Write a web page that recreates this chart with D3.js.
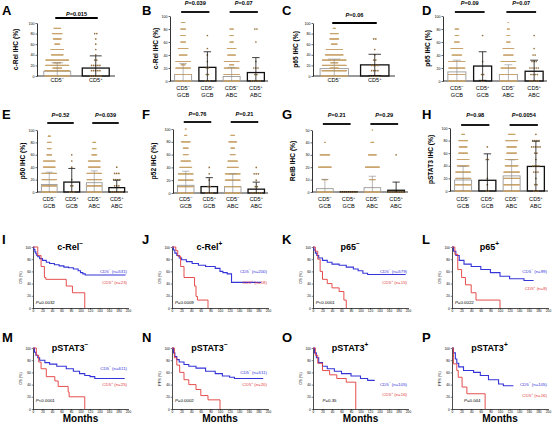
<!DOCTYPE html>
<html><head><meta charset="utf-8">
<script src="https://cdn.jsdelivr.net/npm/d3@7"></script>
<style>body{margin:0;background:#fff}svg{display:block;font-family:Arial,"Liberation Sans",sans-serif}</style>
</head><body><script>
// ---------- DATA ----------
const pctTicks = [0,20,40,60,80,100];
const relbTicks = [0,10,20,30,40,50];
const kmXTicks = [0,20,40,60,80,100,120,140,160,180,200];
const kmYTicks = [0,20,40,60,80,100];

const signsTwo = ["-","+"];
const signsFour = ["-","+","-","+"];
const groupsFour = ["GCB","GCB","ABC","ABC"];

// A: c-Rel, CD5- vs CD5+
const meanA = [9,15], sdA = [16,23], pA = ["P=0.015"];
const dotsA = [
  [[0,90],[10,83],[15,30],[20,77],[25,25],[30,77],[40,40],[50,43],[60,17],[70,27],[80,33],[90,23]],
  [[0,6],[10,5],[20,5],[30,2],[40,1],[50,1],[60,1],[70,1],[80,2]]
];
// B: c-Rel by subtype
const meanB = [10,21,7,13], sdB = [17,24,14,23], pB = ["P=0.039","P=0.07"];
const dotsB = [
  [[0,60],[10,57],[20,50],[25,15],[30,50],[40,27],[50,33],[60,17],[70,17],[80,17],[90,13]],
  [[0,3],[10,2],[20,2],[30,1],[40,1],[50,1],[70,1]],
  [[0,60],[10,57],[20,50],[25,15],[30,50],[40,27],[50,30],[60,13],[70,13],[80,13]],
  [[0,5],[10,2],[20,3],[30,1],[60,1],[80,2]]
];
// C: p65
const meanC = [14,21], sdC = [18,20], pC = ["P=0.06"];
const dotsC = [
  [[0,90],[10,83],[15,30],[20,80],[25,25],[30,80],[40,60],[50,55],[60,20],[70,30],[80,27],[90,8]],
  [[0,5],[10,4],[20,4],[30,2],[40,1],[50,1],[70,2]]
];
// D: p65 by subtype
const meanD = [14,23,10,15], sdD = [18,22,15,17], pD = ["P=0.09","P=0.07"];
const dotsD = [
  [[0,60],[10,57],[20,55],[30,55],[40,33],[50,40],[60,17],[70,13],[80,13]],
  [[0,2],[10,2],[30,1],[70,1]],
  [[0,60],[10,57],[20,50],[30,50],[40,33],[50,37],[60,13],[70,10],[80,8],[90,3]],
  [[0,5],[10,4],[20,5],[30,3],[40,2],[50,1],[70,1]]
];
// E: p50
const meanE = [12,16,15,7], sdE = [20,22,19,12], pE = ["P=0.52","P=0.039"];
const dotsE = [
  [[0,60],[10,57],[20,50],[30,50],[40,40],[50,40],[60,17],[70,13],[80,13],[90,8]],
  [[0,3],[10,2],[20,1],[40,1],[50,1],[60,1]],
  [[0,60],[10,57],[20,50],[30,50],[40,40],[50,40],[60,17],[70,13],[80,10]],
  [[0,6],[10,3],[20,4],[30,3],[40,1]]
];
// F: p52
const meanF = [12,10,10,6], sdF = [22,14,20,11], pF = ["P=0.76","P=0.21"];
const dotsF = [
  [[0,60],[10,57],[20,50],[30,50],[40,40],[50,33],[60,17],[70,17],[80,30],[90,8],[100,4]],
  [[0,4],[10,2],[20,1],[30,1],[40,1]],
  [[0,60],[10,57],[20,50],[30,50],[40,37],[50,33],[60,17],[70,13],[80,27],[90,13]],
  [[0,6],[10,2],[20,1],[30,3],[40,1]]
];
// G: RelB
const meanG = [2.7,0.2,3.5,1.4], sdG = [7.5,0,9.2,6.6], pG = ["P=0.21","P=0.29"];
const dotsG = [
  [[0,70],[10,17],[20,43],[30,33],[40,4]],
  [[0,8]],
  [[0,70],[10,20],[20,47],[30,27],[40,10],[50,3]],
  [[0,10],[30,1]]
];
// H: pSTAT3
const meanH = [17.5,17,24,39], sdH = [21.5,42,25.5,40], pH = ["P=0.98","P=0.0054"];
const dotsH = [
  [[0,60],[10,57],[20,50],[30,50],[40,40],[50,40],[60,30],[70,27],[80,30],[90,10]],
  [[0,2],[10,1],[20,1],[50,2],[70,1]],
  [[0,60],[10,57],[20,55],[30,55],[40,43],[50,43],[60,33],[70,33],[80,40],[90,23]],
  [[0,3],[10,2],[20,1],[30,3],[40,4],[50,1],[60,2],[70,5],[80,4],[90,1]]
];

// Kaplan-Meier: [months, percent surviving]
const kmI_neg = [[0,100],[2,96],[4,92],[6,89],[8,86],[10,84],[14,81],[20,78],[28,75],[35,73],[45,71],[55,69],[65,67],[75,66],[85,64],[95,61],[100,58],[105,56],[110,54],[195,54]];
const kmI_pos = [[0,100],[10,86],[17,68],[24,50],[27,47],[70,36],[83,25],[109,0]];
const kmJ_neg = [[0,100],[3,95],[6,90],[10,86],[15,82],[20,79],[30,76],[42,73],[55,70],[70,68],[90,65],[100,60],[106,58],[115,56],[124,42],[186,42]];
const kmJ_pos = [[0,100],[8,94],[12,85],[18,68],[25,50],[47,36],[50,19],[53,13],[75,0]];
const kmK_neg = [[0,100],[2,95],[5,90],[8,86],[12,82],[20,78],[30,75],[40,72],[55,70],[70,67],[85,64],[95,61],[105,57],[115,55],[195,55]];
const kmK_pos = [[0,100],[5,93],[10,80],[15,60],[20,47],[30,40],[40,33],[55,27],[65,13],[70,0]];
const kmL_neg = [[0,100],[3,93],[8,86],[15,78],[25,72],[40,68],[60,63],[80,58],[100,52],[120,48],[150,45],[170,45]];
const kmL_pos = [[0,100],[6,88],[12,63],[20,50],[28,38],[40,25],[50,13],[100,13],[100,0]];
const kmM_neg = [[0,100],[3,93],[6,88],[10,84],[14,80],[25,76],[35,73.5],[50,70],[70,66],[85,62],[98,58],[109,55],[120,53],[130,50],[193,50]];
const kmM_pos = [[0,100],[7,88],[12,77],[17,66],[28,53],[46,46],[53,37],[74,28],[76,20],[109,0]];
const kmN_neg = [[0,100],[3,92],[6,86],[10,81],[15,77],[25,73],[35,70],[50,67],[70,62],[90,58],[105,54],[120,52],[130,50],[190,50]];
const kmN_pos = [[0,100],[5,84],[10,72],[16,60],[25,48],[35,40],[50,32],[60,22],[75,15],[100,15],[100,0]];
const kmO_neg = [[0,100],[3,92],[7,84],[12,76],[20,70],[30,66],[45,62],[60,58],[80,54],[100,50],[115,47],[130,47]];
const kmO_pos = [[0,100],[5,88],[10,75],[20,63],[35,56],[50,50],[70,44],[90,44],[90,0]];
const kmP_neg = [[0,100],[3,92],[7,82],[10,75],[14,69],[24,63],[45,60],[59,55],[76,48],[97,41],[107,38],[128,38]];
const kmP_pos = [[0,100],[3,74],[10,63],[13,52],[21,36],[31,25],[69,0]];

const nI = ["531","23"], nJ = ["200","18"], nK = ["579","15"], nL = ["99","8"];
const nM = ["611","25"], nN = ["511","20"], nO = ["105","16"], nP = ["105","16"];

// ---------- DRAWING ----------
const W = 557, H = 428;
const svg = d3.select("body").append("svg").attr("width", W).attr("height", H);
const NEG_DOT = "#c9a46c", POS_DOT = "#96703c";
const BLUE = "#3434d8", RED = "#e23a3a";

function rich(g, x, y, parts, size, opt) {
  opt = opt || {};
  const t = g.append("text").attr("x", x).attr("y", y).attr("font-size", size)
    .attr("text-anchor", opt.anchor || "middle").attr("fill", opt.fill || "#000")
    .attr("font-weight", opt.weight || "normal");
  let raised = false;
  parts.forEach(p => {
    const sup = p.startsWith("^");
    const s = t.append("tspan").text(sup ? p.slice(1) : p);
    if (sup && !raised) { s.attr("dy", -size*0.4).attr("font-size", size*0.72); raised = true; }
    else if (sup) { s.attr("font-size", size*0.72); }
    else if (raised) { s.attr("dy", size*0.4); raised = false; }
  });
  return t;
}
function pText(g, x, y, str, size, anchor) {
  const t = g.append("text").attr("x", x).attr("y", y).attr("font-size", size)
    .attr("text-anchor", anchor || "middle").attr("font-weight","bold");
  t.append("tspan").attr("font-style","italic").text(str[0]);
  t.append("tspan").text(str.slice(1));
}
function letter(x, y, L, size) {
  svg.append("text").attr("x", x).attr("y", y).attr("font-size", size || 13)
    .attr("font-weight", "bold").text(L);
}

function barPanel(o) {
  const g = svg.append("g");
  const n = o.means.length;
  const y = d3.scaleLinear().domain([0, o.ymax]).range([o.yB, o.yT]);
  const x = d3.scaleBand().domain(d3.range(n)).range([o.x0 + 1, o.x1]).paddingInner(0.3).paddingOuter(0.15);
  const bw = x.bandwidth();
  const ax = g.append("g").attr("transform", `translate(${o.x0},0)`)
    .call(d3.axisLeft(y).tickValues(o.ticks).tickSize(1.5).tickSizeOuter(0).tickPadding(1));
  ax.select(".domain").attr("stroke-width", 0.8);
  ax.selectAll(".tick line").attr("stroke-width", 0.6);
  ax.selectAll(".tick text").attr("font-size", 3.6).attr("font-family", "Arial");
  g.append("line").attr("x1", o.x0).attr("x2", o.x1).attr("y1", o.yB).attr("y2", o.yB)
    .attr("stroke", "#000").attr("stroke-width", 0.8);
  o.means.forEach((m, i) => {
    const pos = o.signs[i] === "+";
    g.append("rect").attr("x", x(i)).attr("y", y(m)).attr("width", bw).attr("height", o.yB - y(m))
      .attr("fill", "none").attr("stroke", pos ? "#111" : "#9a9a9a").attr("stroke-width", pos ? 1.3 : 0.9);
  });
  o.dots.forEach((rows, i) => {
    const pos = o.signs[i] === "+";
    const cx = x(i) + bw / 2;
    rows.forEach(([v, c]) => {
      let sp = pos ? 2.1 : 0.3;
      const maxW = bw * 0.92;
      if ((c - 1) * sp > maxW) sp = maxW / (c - 1);
      for (let k = 0; k < c; k++) {
        g.append("circle").attr("cx", cx + (k - (c - 1) / 2) * sp).attr("cy", y(v))
          .attr("r", pos ? 0.85 : 0.6).attr("fill", pos ? POS_DOT : NEG_DOT);
      }
    });
  });
  o.means.forEach((m, i) => {
    const pos = o.signs[i] === "+";
    const cx = x(i) + bw / 2, sd = o.sds[i];
    if (sd <= 0) return;
    const hi = m + sd, lo = Math.max(0, m - sd);
    const col = pos ? "#111" : "#8a8a8a", sw = pos ? 0.8 : 0.6;
    g.append("line").attr("x1", cx).attr("x2", cx).attr("y1", y(lo)).attr("y2", y(hi)).attr("stroke", col).attr("stroke-width", sw);
    g.append("line").attr("x1", cx - bw * 0.22).attr("x2", cx + bw * 0.22).attr("y1", y(hi)).attr("y2", y(hi)).attr("stroke", col).attr("stroke-width", sw);
    if (lo > 0) g.append("line").attr("x1", cx - bw * 0.22).attr("x2", cx + bw * 0.22).attr("y1", y(lo)).attr("y2", y(lo)).attr("stroke", col).attr("stroke-width", sw);
  });
  o.signs.forEach((s, i) => {
    const cx = x(i) + bw / 2;
    rich(g, cx, o.labY, ["CD5", "^" + (s === "-" ? "\u2212" : "+")], 5.6);
    if (o.groups) g.append("text").attr("x", cx).attr("y", o.labY + 6.5).attr("font-size", 5.6)
      .attr("text-anchor", "middle").text(o.groups[i]);
  });
  o.pvals.forEach((p, k) => {
    const a = x(2 * k) + bw / 2 - 2, b = x(2 * k + 1) + bw / 2 + 2;
    g.append("line").attr("x1", a).attr("x2", b).attr("y1", o.lineY).attr("y2", o.lineY)
      .attr("stroke", "#000").attr("stroke-width", 1.8);
    pText(g, (a + b) / 2, o.pY, p, 5.6);
  });
  g.append("text").attr("transform", `translate(${o.labX},${(o.yT + o.yB) / 2}) rotate(-90)`)
    .attr("text-anchor", "middle").attr("font-size", 6.6).attr("font-weight", "bold").text(o.ylabel);
}

function kmPanel(o) {
  const g = svg.append("g");
  const x = d3.scaleLinear().domain([0, 200]).range([o.x0, o.x1]);
  const y = d3.scaleLinear().domain([0, 100]).range([o.yB, o.yT]);
  const ay = g.append("g").attr("transform", `translate(${o.x0},0)`)
    .call(d3.axisLeft(y).tickValues(kmYTicks).tickSize(1.3).tickSizeOuter(0).tickPadding(1));
  const axb = g.append("g").attr("transform", `translate(0,${o.yB})`)
    .call(d3.axisBottom(x).tickValues(kmXTicks).tickSize(1.3).tickSizeOuter(0).tickPadding(0.8));
  [ay, axb].forEach(a => {
    a.select(".domain").attr("stroke-width", 0.7);
    a.selectAll(".tick line").attr("stroke-width", 0.5);
    a.selectAll(".tick text").attr("font-size", 3.2).attr("font-family", "Arial");
  });
  const line = d3.line().x(d => x(d[0])).y(d => y(d[1])).curve(d3.curveStepAfter);
  g.append("path").attr("d", line(o.neg)).attr("fill", "none").attr("stroke", BLUE).attr("stroke-width", 1.1);
  g.append("path").attr("d", line(o.pos)).attr("fill", "none").attr("stroke", RED).attr("stroke-width", 0.9);
  rich(g, x(o.titleT || 78), o.yT + 3, [o.title, "^" + o.sign], 9, { weight: "bold" });
  rich(g, x(198), y(o.legNeg), ["CD5", "^\u2212", " (n=" + o.n[0] + ")"], 4.4, { anchor: "end", fill: BLUE });
  rich(g, x(198), y(o.legPos), ["CD5", "^+", " (n=" + o.n[1] + ")"], 4.4, { anchor: "end", fill: RED });
  const t = g.append("text").attr("x", x(o.pT || 6)).attr("y", y(o.pV || 7)).attr("font-size", 4.4);
  t.append("tspan").attr("font-style", "italic").text("P");
  t.append("tspan").text(o.p);
  g.append("text").attr("transform", `translate(${o.x0 - 11},${(o.yT + o.yB) / 2}) rotate(-90)`)
    .attr("text-anchor", "middle").attr("font-size", 3.8).text(o.ylabel);
  if (o.months) g.append("text").attr("x", (o.x0 + o.x1) / 2).attr("y", 422).attr("text-anchor", "middle")
    .attr("font-size", 10).attr("font-weight", "bold").text("Months");
}

letter(2, 15, "A"); letter(142, 15, "B"); letter(282, 15, "C"); letter(422, 15, "D");
barPanel({x0:37,x1:115,yT:23,yB:76,ymax:100,ticks:pctTicks,means:meanA,sds:sdA,dots:dotsA,signs:signsTwo,
  pvals:pA,lineY:18,pY:15.5,labY:82,labX:18,ylabel:"c-Rel IHC (%)"});
barPanel({x0:170,x1:268,yT:16,yB:81,ymax:100,ticks:pctTicks,means:meanB,sds:sdB,dots:dotsB,signs:signsFour,groups:groupsFour,
  pvals:pB,lineY:12,pY:5,labY:90,labX:158,ylabel:"c-Rel IHC (%)"});
barPanel({x0:313,x1:395,yT:23,yB:76,ymax:100,ticks:pctTicks,means:meanC,sds:sdC,dots:dotsC,signs:signsTwo,
  pvals:pC,lineY:23,pY:16.5,labY:82,labX:298,ylabel:"p65 IHC (%)"});
barPanel({x0:443,x1:547,yT:16,yB:81,ymax:100,ticks:pctTicks,means:meanD,sds:sdD,dots:dotsD,signs:signsFour,groups:groupsFour,
  pvals:pD,lineY:12,pY:5,labY:90,labX:430,ylabel:"p65 IHC (%)"});
letter(2, 119, "E"); letter(142, 119, "F"); letter(282, 119, "G"); letter(422, 119, "H");
barPanel({x0:37,x1:128,yT:130,yB:192,ymax:100,ticks:pctTicks,means:meanE,sds:sdE,dots:dotsE,signs:signsFour,groups:groupsFour,
  pvals:pE,lineY:123,pY:116.5,labY:201,labX:25,ylabel:"p50 IHC (%)"});
barPanel({x0:173,x1:268,yT:129,yB:193,ymax:100,ticks:pctTicks,means:meanF,sds:sdF,dots:dotsF,signs:signsFour,groups:groupsFour,
  pvals:pF,lineY:122,pY:116,labY:201,labX:156,ylabel:"p52 IHC (%)"});
barPanel({x0:312,x1:408,yT:130,yB:192,ymax:50,ticks:relbTicks,means:meanG,sds:sdG,dots:dotsG,signs:signsFour,groups:groupsFour,
  pvals:pG,lineY:124,pY:117,labY:201,labX:295,ylabel:"RelB IHC (%)"});
barPanel({x0:450,x1:548,yT:128,yB:191,ymax:100,ticks:pctTicks,means:meanH,sds:sdH,dots:dotsH,signs:signsFour,groups:groupsFour,
  pvals:pH,lineY:125,pY:117,labY:201,labX:433,ylabel:"pSTAT3 IHC (%)"});
letter(2, 244, "I"); letter(142, 244, "J"); letter(282, 244, "K"); letter(422, 244, "L");
kmPanel({x0:33,x1:128,yT:247,yB:308,neg:kmI_neg,pos:kmI_pos,title:"c-Rel",sign:"\u2212",n:nI,legNeg:58,legPos:40,p:"=0.0032",ylabel:"OS (%)"});
kmPanel({x0:172,x1:268,yT:247,yB:308,neg:kmJ_neg,pos:kmJ_pos,title:"c-Rel",sign:"+",n:nJ,legNeg:58,legPos:40,p:"=0.0009",ylabel:"OS (%)"});
kmPanel({x0:313,x1:408,yT:247,yB:308,neg:kmK_neg,pos:kmK_pos,title:"p65",sign:"\u2212",n:nK,legNeg:58,legPos:40,p:"<0.0001",ylabel:"OS (%)"});
kmPanel({x0:452,x1:548,yT:247,yB:308,neg:kmL_neg,pos:kmL_pos,title:"p65",sign:"+",n:nL,legNeg:58,legPos:30,p:"=0.0022",ylabel:"OS (%)"});
letter(2, 342, "M"); letter(142, 342, "N"); letter(282, 342, "O"); letter(422, 342, "P");
kmPanel({x0:33,x1:128,yT:348,yB:409,neg:kmM_neg,pos:kmM_pos,title:"pSTAT3",sign:"\u2212",n:nM,legNeg:64,legPos:38,p:"<0.0001",pV:11,ylabel:"OS (%)",months:true});
kmPanel({x0:172,x1:268,yT:348,yB:409,neg:kmN_neg,pos:kmN_pos,title:"pSTAT3",sign:"\u2212",n:nN,legNeg:58,legPos:38,p:"=0.0002",pV:11,ylabel:"PFS (%)",months:true});
kmPanel({x0:313,x1:408,yT:348,yB:409,neg:kmO_neg,pos:kmO_pos,title:"pSTAT3",sign:"+",n:nO,legNeg:38,legPos:22,p:"=0.35",pV:11,pT:20,ylabel:"OS (%)",months:true});
kmPanel({x0:452,x1:548,yT:348,yB:409,neg:kmP_neg,pos:kmP_pos,title:"pSTAT3",sign:"+",n:nP,legNeg:38,legPos:20,p:"=0.044",pV:12,pT:25,ylabel:"PFS (%)",months:true});
</script></body></html>
